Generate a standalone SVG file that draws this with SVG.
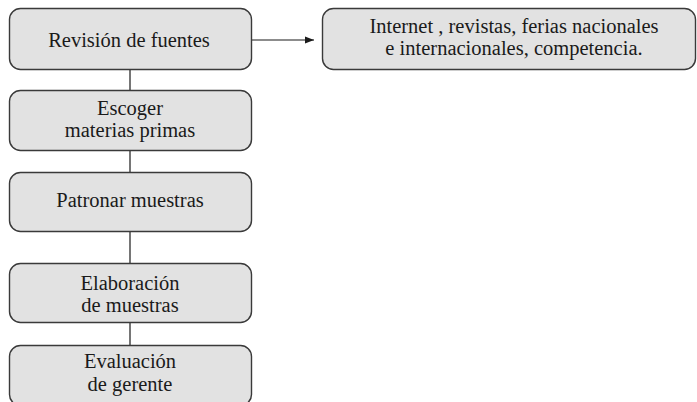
<svg xmlns="http://www.w3.org/2000/svg" width="697" height="402" viewBox="0 0 697 402">
<defs>
<style>
.box{fill:#e2e2e2;stroke:#3a3a3a;stroke-width:1.4}
.t{font-family:'Liberation Serif','DejaVu Serif',serif;font-size:20.5px;fill:#1a1a1a;text-anchor:middle}
.c{stroke:#1a1a1a;stroke-width:1.2;fill:none}
</style>
<marker id="ah" viewBox="0 0 10 10" refX="10" refY="5" markerWidth="9" markerHeight="9" markerUnits="userSpaceOnUse" orient="auto">
<path d="M0,1 L10,5 L0,9 Z" fill="#1a1a1a"/>
</marker>
</defs>
<g id="connectors">
<line class="c" x1="130" y1="70" x2="130" y2="90"/>
<line class="c" x1="130" y1="151" x2="130" y2="172"/>
<line class="c" x1="130" y1="232" x2="130" y2="263"/>
<line class="c" x1="130" y1="323" x2="130" y2="345"/>
<line class="c" x1="252" y1="40" x2="314" y2="40" marker-end="url(#ah)"/>
</g>
<g id="n1">
<rect class="box" x="9.5" y="8.5" width="242" height="61" rx="11"/>
<text class="t" x="129" y="46.5" font-size="22">Revisión de fuentes</text>
</g>
<g id="n2">
<rect class="box" x="9.5" y="90.5" width="242" height="60" rx="11"/>
<text class="t"><tspan x="130" y="114.5">Escoger</tspan><tspan x="130" y="137">materias primas</tspan></text>
</g>
<g id="n3">
<rect class="box" x="9.5" y="172.5" width="242" height="59" rx="11"/>
<text class="t" x="130" y="207" font-size="22">Patronar muestras</text>
</g>
<g id="n4">
<rect class="box" x="9.5" y="263.5" width="242" height="59" rx="11"/>
<text class="t"><tspan x="130" y="289.5">Elaboración</tspan><tspan x="130" y="312">de muestras</tspan></text>
</g>
<g id="n5">
<rect class="box" x="9.5" y="345.5" width="242" height="60" rx="11"/>
<text class="t"><tspan x="130" y="368">Evaluación</tspan><tspan x="130" y="390.5">de gerente</tspan></text>
</g>
<g id="n6">
<rect class="box" x="322.5" y="8.5" width="373" height="61" rx="11"/>
<text class="t"><tspan x="514" y="32.5">Internet , revistas, ferias nacionales</tspan><tspan x="514" y="55">e internacionales, competencia.</tspan></text>
</g>
</svg>
